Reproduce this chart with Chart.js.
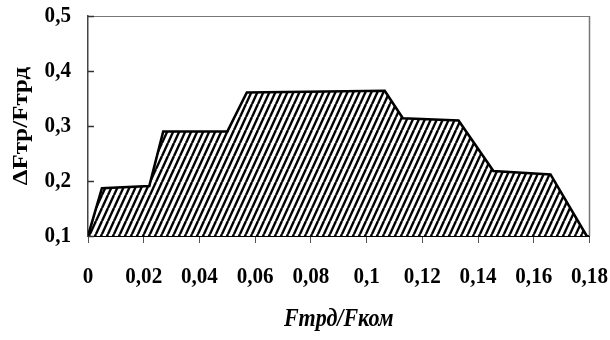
<!DOCTYPE html>
<html>
<head>
<meta charset="utf-8">
<script src="https://cdn.jsdelivr.net/npm/chart.js@4/dist/chart.umd.min.js"></script>
<style>
  html, body { margin: 0; padding: 0; background: #fff; }
  #wrap { width: 610px; height: 340px; position: relative; }
</style>
</head>
<body>
<div id="wrap"><canvas id="c"></canvas></div>
<script>
// ---- data ----
const xValues = [0, 0.005, 0.022, 0.027, 0.05, 0.057, 0.1065, 0.113, 0.133, 0.1455, 0.166, 0.179];
const yValues = [0.1, 0.187, 0.191, 0.29, 0.29, 0.361, 0.364, 0.314, 0.31, 0.218, 0.212, 0.1];
const xTickLabels = ["0", "0,02", "0,04", "0,06", "0,08", "0,1", "0,12", "0,14", "0,16", "0,18"];
const yTickLabels = ["0,1", "0,2", "0,3", "0,4", "0,5"];
const xTitle = "Fтрд/Fком";
const yTitle = "ΔFтр/Fтрд";

// the reference text looks horizontally squeezed
const TEXT_SQUEEZE = 0.88;

function makeHatch() {
  const w = 6, h = 13;
  const c = document.createElement('canvas');
  c.width = w; c.height = h;
  const g = c.getContext('2d');
  g.fillStyle = '#fff';
  g.fillRect(0, 0, w, h);
  g.strokeStyle = '#000';
  g.lineWidth = 2.4;
  for (const off of [-w, 0, w]) {
    g.beginPath();
    g.moveTo(off, h);
    g.lineTo(off + w, 0);
    g.stroke();
  }
  return g.createPattern(c, 'repeat');
}

const canvas = document.getElementById('c');
const ctx0 = canvas.getContext('2d');
const origFillText = ctx0.fillText;
ctx0.fillText = function (text, x, y) {
  const m = this.getTransform();
  const sx = m.a * x + m.c * y + m.e;
  const sy = m.b * x + m.d * y + m.f;
  this.save();
  this.setTransform(1, 0, 0, 1, 0, 0);
  this.translate(sx, sy);
  this.scale(TEXT_SQUEEZE, 1);
  this.transform(m.a, m.b, m.c, m.d, 0, 0);
  origFillText.call(this, text, 0, 0);
  this.restore();
};

const points = xValues.map((x, i) => ({ x: x, y: yValues[i] }));

const framePlugin = {
  id: 'frame',
  afterDraw(chart) {
    const { ctx, chartArea: a, scales } = chart;
    ctx.save();
    ctx.strokeStyle = '#777';
    ctx.lineWidth = 1;
    ctx.beginPath();
    ctx.moveTo(a.left, a.top + 0.5);
    ctx.lineTo(a.right, a.top + 0.5);
    ctx.stroke();
    ctx.lineWidth = 1.5;
    ctx.beginPath();
    ctx.moveTo(a.right, a.top);
    ctx.lineTo(a.right, a.bottom);
    ctx.stroke();
    ctx.strokeStyle = '#333';
    ctx.lineWidth = 1.5;
    scales.y.ticks.forEach(t => {
      const py = Math.round(scales.y.getPixelForValue(t.value)) + 0.5;
      ctx.beginPath();
      ctx.moveTo(a.left, py);
      ctx.lineTo(a.left + 6, py);
      ctx.stroke();
    });
    ctx.restore();
  }
};

new Chart(canvas, {
  type: 'line',
  data: {
    datasets: [{
      data: points,
      borderColor: '#000',
      borderWidth: 2.6,
      backgroundColor: makeHatch(),
      fill: 'start',
      tension: 0,
      pointRadius: 0,
      borderJoinStyle: 'miter'
    }]
  },
  options: {
    responsive: true,
    maintainAspectRatio: false,
    animation: false,
    layout: { autoPadding: false, padding: { left: 0, top: 16, right: 20.5, bottom: 3 } },
    plugins: { legend: { display: false }, tooltip: { enabled: false } },
    scales: {
      x: {
        type: 'linear',
        min: 0, max: 0.18,
        afterFit(s) { s.height = 101; s.paddingLeft = 0; s.paddingRight = 0; s.paddingTop = 0; s.paddingBottom = 0; },
        ticks: {
          stepSize: 0.02,
          autoSkip: false,
          maxRotation: 0,
          padding: 19,
          color: '#000',
          font: { family: 'Liberation Serif', size: 24, weight: 'bold' },
          callback: (v, i) => xTickLabels[i]
        },
        grid: { drawOnChartArea: false, drawTicks: true, tickLength: 7, color: '#555', lineWidth: 1 },
        border: { color: '#000', width: 2 },
        title: {
          display: true,
          text: xTitle,
          color: '#000',
          padding: { top: 0, bottom: 2 },
          font: { family: 'Liberation Serif', size: 25, weight: 'bold', style: 'italic' }
        }
      },
      y: {
        type: 'linear',
        min: 0.1, max: 0.5,
        afterFit(s) { s.width = 88; s.paddingLeft = 0; s.paddingRight = 0; s.paddingTop = 0; s.paddingBottom = 0; },
        ticks: {
          stepSize: 0.1,
          padding: 17,
          color: '#000',
          font: { family: 'Liberation Serif', size: 24, weight: 'bold' },
          callback: (v, i) => yTickLabels[i]
        },
        grid: { drawOnChartArea: false, drawTicks: false },
        border: { color: '#444', width: 1.5 },
        title: {
          display: true,
          text: yTitle,
          color: '#000',
          padding: { top: 6, bottom: 0 },
          font: { family: 'Liberation Serif', size: 25, weight: 'bold' }
        }
      }
    }
  },
  plugins: [framePlugin]
});
</script>
</body>
</html>
